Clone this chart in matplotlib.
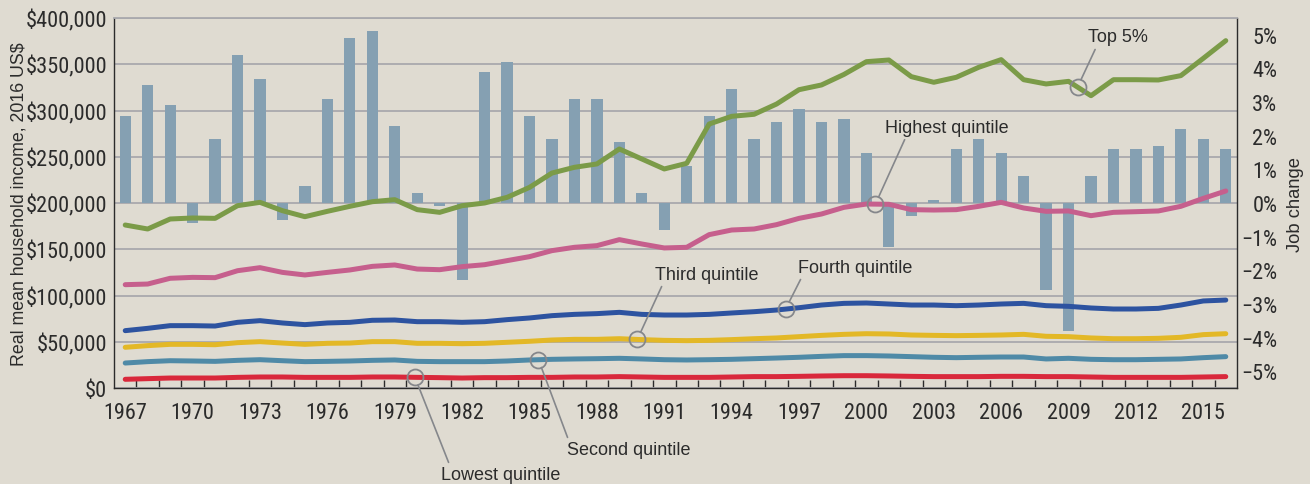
import numpy as np
import matplotlib
matplotlib.use("Agg")
import matplotlib.pyplot as plt
from matplotlib import font_manager
from matplotlib.ticker import FixedLocator, FuncFormatter

# ---------------------------------------------------------------
# data
# ---------------------------------------------------------------
years = np.arange(1967, 2017)

# annual job change, %
job_change = [
    2.6, 3.5, 2.9, -0.6, 1.9, 4.4, 3.7, -0.5, 0.5, 3.1,
    4.9, 5.1, 2.3, 0.3, -0.1, -2.3, 3.9, 4.2, 2.6, 1.9,
    3.1, 3.1, 1.8, 0.3, -0.8, 1.1, 2.6, 3.4, 1.9, 2.4,
    2.8, 2.4, 2.5, 1.5, -1.3, -0.4, 0.1, 1.6, 1.9, 1.5,
    0.8, -2.6, -3.8, 0.8, 1.6, 1.6, 1.7, 2.2, 1.9, 1.6,
]

# real mean household income, thousands of 2016 US$
top5 = [
    176.2, 171.9, 182.7, 183.8, 183.4, 197.1, 200.7, 191.7, 185.2, 191.0,
    196.4, 201.4, 203.6, 192.8, 189.9, 197.1, 200.0, 206.1, 216.9, 232.4,
    238.6, 242.2, 258.4, 247.6, 236.8, 242.9, 285.4, 293.7, 295.9, 307.0,
    322.5, 327.6, 339.0, 352.8, 354.6, 336.6, 330.5, 335.9, 346.7, 355.0,
    333.3, 328.7, 331.5, 316.0, 333.3, 333.3, 333.0, 337.7, 356.4, 375.5,
]
highest = [
    111.7, 112.4, 118.6, 119.6, 119.3, 126.8, 130.1, 125.0, 122.2, 125.0,
    127.6, 131.5, 133.0, 128.6, 127.9, 131.2, 133.3, 137.7, 142.0, 148.5,
    152.1, 153.9, 160.4, 155.7, 151.4, 152.1, 165.8, 170.8, 171.9, 176.6,
    183.4, 188.1, 195.3, 198.9, 198.6, 192.8, 192.4, 192.8, 196.4, 200.7,
    194.6, 191.0, 191.4, 186.3, 189.9, 190.6, 191.4, 196.4, 205.0, 213.0,
]
fourth = [
    62.0, 64.5, 67.4, 67.4, 67.0, 71.0, 72.8, 70.3, 68.5, 70.3,
    71.0, 73.2, 73.5, 71.7, 71.7, 71.0, 71.7, 73.9, 75.7, 78.2,
    79.6, 80.4, 81.8, 79.6, 78.9, 78.9, 79.6, 81.1, 82.5, 84.3,
    86.8, 89.7, 91.5, 91.9, 90.8, 89.7, 89.7, 89.0, 89.7, 90.8,
    91.5, 89.0, 88.3, 86.5, 85.4, 85.4, 86.1, 89.7, 94.1, 95.1,
]
third = [
    44.0, 45.8, 47.2, 47.2, 46.8, 49.0, 50.1, 48.6, 47.2, 48.3,
    48.6, 50.1, 50.1, 48.3, 48.3, 47.9, 48.3, 49.4, 50.5, 51.9,
    52.6, 52.6, 53.3, 52.3, 51.5, 51.2, 51.5, 52.3, 53.3, 54.1,
    55.5, 56.9, 58.0, 58.7, 58.4, 57.3, 56.9, 56.6, 56.9, 57.3,
    58.0, 55.9, 55.5, 54.1, 53.3, 53.3, 53.7, 54.8, 57.7, 58.7,
]
second = [
    27.0, 28.5, 29.5, 29.2, 28.8, 29.9, 30.6, 29.5, 28.5, 28.8,
    29.2, 29.9, 30.3, 28.8, 28.5, 28.5, 28.5, 29.2, 30.3, 31.0,
    31.4, 31.7, 32.1, 31.4, 30.6, 30.3, 30.6, 31.0, 31.7, 32.4,
    33.2, 34.2, 35.0, 35.0, 34.6, 33.9, 33.2, 32.8, 33.2, 33.5,
    33.5, 31.4, 32.1, 31.0, 30.6, 30.6, 31.0, 31.4, 32.8, 33.9,
]
lowest = [
    9.4, 10.1, 10.8, 10.8, 10.8, 11.5, 11.9, 11.9, 11.5, 11.5,
    11.5, 11.9, 11.9, 11.5, 11.2, 10.8, 11.2, 11.2, 11.5, 11.5,
    11.9, 11.9, 12.3, 11.9, 11.5, 11.5, 11.5, 11.9, 12.3, 12.3,
    12.6, 13.0, 13.3, 13.3, 13.0, 12.6, 12.3, 12.3, 12.3, 12.6,
    12.6, 12.3, 12.3, 11.9, 11.5, 11.5, 11.5, 11.5, 11.9, 12.3,
]

series_names = ["Lowest quintile", "Second quintile", "Third quintile",
                "Fourth quintile", "Highest quintile", "Top 5%"]
series_values = [lowest, second, third, fourth, highest, top5]
series_colors = ["#d9283b", "#4f8aa7", "#e3b827", "#2d53a0", "#c65f8d", "#7b9b48"]

income_ticks = np.arange(0, 400001, 50000)
income_labels = ["$0", "$50,000", "$100,000", "$150,000", "$200,000",
                 "$250,000", "$300,000", "$350,000", "$400,000"]
year_ticks = np.arange(1967, 2016, 3)
job_ticks = np.arange(-5, 6)

# label placement: (year of circle on the line, text x in years, text y in $, relpos)
callouts = {
    "Top 5%":           (2009.4, 2011.2, 379500, (0.15, 0.0)),
    "Highest quintile": (2000.4, 2003.6, 282000, (0.17, 0.0)),
    "Fourth quintile":  (1996.4, 1999.5, 130800, (0.04, 0.0)),
    "Third quintile":   (1989.8, 1992.9, 123200, (0.08, 0.0)),
    "Second quintile":  (1985.4, 1989.4, -67000, (0.02, 1.0)),
    "Lowest quintile":  (1979.9, 1983.7, -94000, (0.08, 1.0)),
}

# ---------------------------------------------------------------
# styling
# ---------------------------------------------------------------
BG = "#dfdbd1"
GRID = "#a9a9ad"
BAR = "#85a0b2"
INK = "#2b2b2b"
CALLOUT = "#85878b"
REGULAR = ["Liberation Sans", "DejaVu Sans"]

# tick labels in the reference use a condensed face; pick one if present
installed = font_manager.fontManager.ttflist
tick_font = None
for cand in ["Liberation Sans Narrow", "Roboto Condensed", "Open Sans Condensed",
             "Noto Sans Condensed", "DejaVu Sans Condensed"]:
    if any(f.name == cand for f in installed):
        tick_font = dict(family=cand, size=16)
        break
if tick_font is None:
    if any(f.name == "DejaVu Sans" and f.stretch == "condensed" for f in installed):
        tick_font = dict(family="DejaVu Sans", stretch="condensed", size=14.5)
    else:
        tick_font = dict(family="Liberation Sans", size=13.5)

plt.rcParams["font.family"] = REGULAR

fig = plt.figure(figsize=(13.1, 4.85), dpi=100, facecolor=BG)
pos = [114 / 1310, 96 / 485, (1237 - 114) / 1310, (389 - 19) / 485]

# background axis: dollar scale, gridlines, spines
ax = fig.add_axes(pos)
ax.set_facecolor(BG)
ax.set_xlim(1966.5, 2016.5)
ax.set_ylim(0, 400000)
ax.yaxis.set_major_locator(FixedLocator(income_ticks))
ax.set_yticklabels(income_labels)
ax.grid(axis="y", color=GRID, linewidth=1.3)
ax.set_axisbelow(True)
ax.xaxis.set_major_locator(FixedLocator(year_ticks))
ax.xaxis.set_minor_locator(FixedLocator(np.arange(1967.5, 2016.5, 1)))
ax.tick_params(axis="x", which="major", length=0, pad=10, colors=INK)
ax.tick_params(axis="x", which="minor", direction="in", length=5.5, width=1.0, color=INK)
ax.tick_params(axis="y", length=0, pad=5, colors=INK)
for lab in ax.get_xticklabels() + ax.get_yticklabels():
    lab.set(**tick_font)
ax.spines["top"].set_color(GRID)
ax.spines["top"].set_linewidth(1.3)
for s in ["left", "bottom", "right"]:
    ax.spines[s].set_color(INK)
    ax.spines[s].set_linewidth(1.0)
ax.set_ylabel("Real mean household income, 2016 US$", fontsize=12.8, color=INK)
ax.yaxis.set_label_coords(-86 / 1123, 0.5)

# job change bars on the right-hand scale
ax2 = ax.twinx()
ax2.patch.set_visible(False)
ax2.set_ylim(-5.5, 5.5)
ax2.bar(years, job_change, width=0.5, color=BAR, zorder=2)
ax2.yaxis.set_major_locator(FixedLocator(job_ticks))
ax2.yaxis.set_major_formatter(FuncFormatter(lambda v, p: f"{int(v)}%".replace("-", "\u2212")))
ax2.tick_params(axis="y", length=0, pad=29, colors=INK)
for lab in ax2.get_yticklabels():
    lab.set(**tick_font)
    lab.set_horizontalalignment("right")
for s in ax2.spines.values():
    s.set_visible(False)
ax2.set_ylabel("Job change", fontsize=13.2, color=INK)
ax2.yaxis.set_label_coords(1 + 50 / 1123, 0.5)

# income lines on top
ax3 = fig.add_axes(pos, sharex=ax, sharey=ax)
ax3.patch.set_visible(False)
ax3.axis("off")
for name, vals, col in zip(series_names, series_values, series_colors):
    ax3.plot(years, np.array(vals) * 1000, color=col, linewidth=3.6,
             solid_capstyle="round", solid_joinstyle="round", zorder=3)

for name, vals in zip(series_names, series_values):
    cx, tx, ty, rp = callouts[name]
    cy = np.interp(cx, years, np.array(vals) * 1000)
    ax3.plot([cx], [cy], marker="o", markersize=11.5, markerfacecolor="none",
             markeredgecolor=CALLOUT, markeredgewidth=1.3, zorder=5, clip_on=False)
    ax3.annotate(name, xy=(cx, cy), xytext=(tx, ty), ha="center", va="center",
                 fontsize=13, color=INK, annotation_clip=False,
                 arrowprops=dict(arrowstyle="-", color=CALLOUT, lw=1.2,
                                 relpos=rp, shrinkA=1, shrinkB=6))

fig.savefig("out.png", dpi=100, facecolor=BG)
